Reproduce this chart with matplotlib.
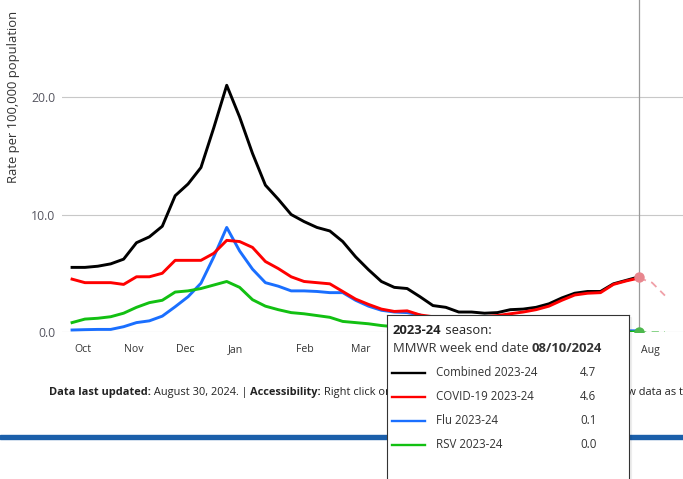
"""Weekly hospitalization rates, 2023-24 season, with hover tooltip"""

import numpy as np
import matplotlib
matplotlib.use('Agg')
import matplotlib.pyplot as plt
from matplotlib.patches import Rectangle

plt.rcParams['font.family'] = ['Open Sans', 'DejaVu Sans']

# Weekly rates per 100,000 (MMWR weeks from early Oct 2023 to 08/10/2024)
weeks = np.arange(45)
combined = [5.5, 5.5, 5.6, 5.8, 6.2, 7.6, 8.1, 9.0, 11.6, 12.6, 14.0, 17.4, 21.0,
            18.3, 15.2, 12.5, 11.3, 10.0, 9.4, 8.9, 8.6, 7.7, 6.4, 5.3, 4.3, 3.8,
            3.7, 3.0, 2.25, 2.1, 1.7, 1.7, 1.6, 1.65, 1.9, 1.95, 2.1, 2.4, 2.9,
            3.3, 3.45, 3.45, 4.1, 4.4, 4.7]
covid = [4.5, 4.2, 4.2, 4.2, 4.05, 4.7, 4.7, 5.0, 6.1, 6.1, 6.1, 6.7, 7.8, 7.7,
         7.2, 6.0, 5.4, 4.7, 4.3, 4.2, 4.1, 3.45, 2.8, 2.35, 1.95, 1.75, 1.8,
         1.45, 1.3, 1.2, 1.15, 1.2, 1.3, 1.4, 1.55, 1.7, 1.9, 2.2, 2.7, 3.15,
         3.3, 3.35, 4.05, 4.35, 4.6]
flu = [0.17, 0.2, 0.22, 0.22, 0.45, 0.8, 0.95, 1.35, 2.15, 3.0, 4.15, 6.4, 8.9,
       6.9, 5.35, 4.2, 3.9, 3.5, 3.5, 3.45, 3.35, 3.35, 2.7, 2.2, 1.85, 1.7,
       1.65, 1.45, 0.9, 0.7, 0.45, 0.35, 0.25, 0.2, 0.2, 0.15, 0.15, 0.15, 0.1,
       0.1, 0.1, 0.1, 0.1, 0.1, 0.1]
rsv = [0.8, 1.1, 1.17, 1.3, 1.6, 2.1, 2.5, 2.7, 3.4, 3.5, 3.7, 4.0, 4.3, 3.8,
       2.75, 2.2, 1.9, 1.65, 1.55, 1.4, 1.25, 0.9, 0.8, 0.7, 0.55, 0.45, 0.35,
       0.3, 0.2, 0.15, 0.1, 0.1, 0.1, 0.05, 0.05, 0.05, 0.05, 0.05, 0.0, 0.0,
       0.0, 0.0, 0.0, 0.0, 0.0]

# light dashed continuation after the hovered week
tail_weeks = [44, 45, 46]
covid_tail = [4.6, 4.2, 3.1]
rsv_tail = [0.0, 0.0, 0.0]

# month labels visible outside the tooltip
month_pos = [0.85, 4.8, 8.8, 12.7, 18.1, 22.4, 44.85]
month_lab = ['Oct', 'Nov', 'Dec', 'Jan', 'Feb', 'Mar', 'Aug']
y_ticks = [0, 10, 20]

hover = 44
series = [('Combined 2023-24', combined, '#000000'),
          ('COVID-19 2023-24', covid, '#ff0000'),
          ('Flu 2023-24', flu, '#1a6fff'),
          ('RSV 2023-24', rsv, '#12c012')]

W, H = 683, 479
fig = plt.figure(figsize=(W / 100, H / 100), dpi=100)
ax = fig.add_axes([62 / W, 147 / H, 621 / W, 332 / H])

ax.plot(weeks, combined, color='#000000', lw=2.1, zorder=2)
ax.plot(weeks, flu, color='#1a6fff', lw=2.1, zorder=3)
ax.plot(weeks, rsv, color='#12c012', lw=2.1, zorder=3)
ax.plot(weeks, covid, color='#ff0000', lw=2.1, zorder=4)
ax.plot(tail_weeks, covid_tail, color='#f0a0a8', lw=1.3, ls=(0, (4, 3)), zorder=4)
ax.plot(tail_weeks, rsv_tail, color='#7fd07f', lw=1.3, ls=(0, (4, 3)), zorder=4)
ax.axvline(hover, color='#9a9a9a', lw=0.9, zorder=5)
ax.plot([hover], [combined[hover]], 'o', ms=6.5, color='#e8868e', zorder=6)
ax.plot([hover], [rsv[hover]], 'o', ms=6.5, color='#4db84d', zorder=6)

ax.set_xlim(-0.78, 47.4)
ax.set_ylim(0, 28.26)
ax.set_yticks(y_ticks)
ax.set_yticklabels(['%.1f' % v for v in y_ticks])
ax.set_xticks(month_pos)
ax.set_xticklabels(month_lab)
ax.tick_params(axis='y', length=0, pad=5, labelsize=8.8, labelcolor='#555560')
ax.tick_params(axis='x', length=0, pad=9, labelsize=7.6, labelcolor='#333333')
ax.grid(axis='y', color='#c8c8c8', lw=0.8)
ax.set_axisbelow(True)
for s in ax.spines.values():
    s.set_visible(False)

fig.text(14 / W, 1 - 97 / H, 'Rate per 100,000 population', rotation=90,
         ha='center', va='center', fontsize=9.4, color='#333333')

# page band
fig.patches.append(Rectangle((0, 1 - 439 / H), 1, 4 / H, transform=fig.transFigure,
                             color='#1b5faa', zorder=1))

renderer = fig.canvas.get_renderer()


def chain(host, x, y, parts, trans, **kw):
    inv = trans.inverted()
    for txt, weight in parts:
        t = host.text(x, y, txt, fontweight=weight, transform=trans,
                      va='center', ha='left', **kw)
        bb = t.get_window_extent(renderer)
        x = inv.transform((bb.x1, bb.y0))[0]


chain(fig, 49 / W, 1 - 392 / H,
      [('Data last updated:', 'bold'), (' August 30, 2024. | ', 'normal'),
       ('Accessibility:', 'bold'),
       (' Right click on the chart area and choose the options to show data as table.',
        'normal')],
      fig.transFigure, fontsize=7.9, color='#222222')

# tooltip
fig.patches.append(Rectangle((389 / W, -0.05), 242 / W, (479 - 317) / H + 0.05,
                             transform=fig.transFigure, color='#0000000c', zorder=9))
tip = fig.add_axes([387 / W, -10 / H, 242 / W, 174 / H])
tip.set_zorder(10)
tip.set_xlim(387, 629)
tip.set_ylim(489, 315)
tip.set_xticks([])
tip.set_yticks([])
for s in tip.spines.values():
    s.set_color('#333333')
    s.set_linewidth(0.8)

chain(tip, 393, 331, [('2023-24', 'bold'), (' season:', 'normal')],
      tip.transData, fontsize=9.4, color='#222222')
chain(tip, 393, 349, [('MMWR week end date ', 'normal'), ('08/10/2024', 'bold')],
      tip.transData, fontsize=9.4, color='#333333')

row_y = [373, 397, 420.5, 444.5]
for (name, vals, col), ry in zip(series, row_y):
    tip.plot([392, 425], [ry, ry], color=col, lw=1.7)
    tip.text(436, ry, name, va='center', fontsize=8.3, color='#333333')
    tip.text(580, ry, '%.1f' % vals[hover], va='center', fontsize=8.3,
             color='#333333')

fig.savefig('out.png', dpi=100)
